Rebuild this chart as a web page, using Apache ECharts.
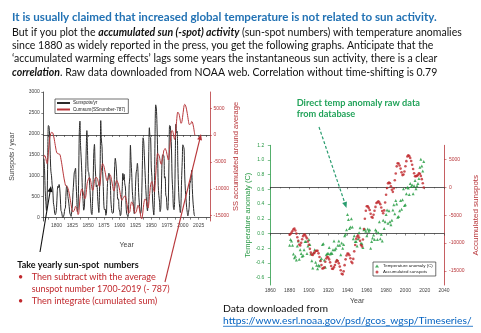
<!DOCTYPE html>
<html><head><meta charset="utf-8">
<script src="https://cdn.jsdelivr.net/npm/echarts@6/dist/echarts.min.js"></script>
<style>html,body{margin:0;padding:0;background:#fff}#c{width:481px;height:333px}</style>
</head><body><div id="c"></div>
<script>
// ---------- data ----------
const sunspotStartYear = 1780;
// yearly sunspot numbers (sum of monthly), 1780-2019
const sunspots = [
 1410,1135,642,380,170,402,1382,2200,2182,1969,
 1499,1110,1000,782,683,355,267,107,68,113,
 242,567,750,718,792,703,468,168,135,42,
 0,23,83,203,232,590,763,683,502,398,
 260,110,67,30,142,277,605,827,1070,1117,
 1182,797,458,142,220,948,2025,2305,1720,1428,
 1077,612,403,178,250,668,1025,1642,2078,1605,
 1110,1075,902,650,343,112,72,378,913,1563,
 1750,1287,985,733,783,508,272,122,627,1233,
 2317,1853,1693,1103,745,283,188,207,57,100,
 538,905,995,1062,1058,870,423,218,113,105,
 118,593,1217,1418,1300,1067,697,437,445,202,
 158,45,83,407,700,1058,897,1033,808,732,
 310,95,60,23,160,790,952,1732,1343,1060,
 627,435,237,97,278,738,1065,1150,1297,1082,
 595,353,185,95,145,602,1328,1907,1827,1480,
 1130,792,510,272,160,553,1543,2147,1930,1907,
 1188,983,446,197,62,538,2006,2693,2617,2251,
 1590,763,532,395,144,214,666,1328,1500,1494,
 1480,943,976,538,489,219,178,389,1310,2200,
 2189,1988,1641,943,650,253,190,416,1419,2232,
 2019,2063,1335,773,423,248,122,304,910,1321,
 1739,1704,1636,993,653,458,247,126,42,48,
 249,808,845,940,1133,698,398,217,70,36
];
// accumulated sunspots around average, 1780-2019
const cumSunspots = [
 -4130,-3780,-3920,-4330,-4950,-5330,-4740,-3330,-1930,-750,
 -40,290,500,500,390,-40,-560,-1240,-1960,-2630,
 -3180,-3400,-3440,-3510,-3500,-3580,-3900,-4520,-5170,-5920,
 -6710,-7470,-8170,-8760,-9310,-9510,-9530,-9640,-9920,-10310,
 -10840,-11520,-12240,-12990,-13640,-14150,-14330,-14290,-14010,-13680,
 -13280,-13270,-13600,-14250,-14810,-14650,-13410,-11900,-10960,-10320,
 -10030,-10210,-10590,-11200,-11740,-11860,-11620,-10760,-9470,-8650,
 -8330,-8040,-7930,-8070,-8510,-9180,-9900,-10310,-10180,-9410,
 -8600,-8100,-7900,-7950,-7960,-8240,-8750,-9420,-9580,-9130,
 -7600,-6530,-5630,-5310,-5330,-5800,-6380,-6930,-7630,-8290,
 -8510,-8370,-8130,-7830,-7530,-7420,-7760,-8300,-8950,-9600,
 -10250,-10410,-9960,-9300,-8760,-8450,-8510,-8840,-9150,-9710,
 -10310,-11030,-11700,-12060,-12120,-11820,-11680,-11410,-11360,-11390,
 -11840,-12500,-13200,-13940,-14540,-14510,-14320,-13350,-12760,-12460,
 -12600,-12920,-13450,-14110,-14590,-14610,-14310,-13920,-13380,-13060,
 -13220,-13630,-14210,-14870,-15490,-15590,-15060,-13950,-12910,-12230,
 -11890,-11900,-12180,-12700,-13340,-13580,-12830,-11480,-10340,-9230,
 -8840,-8650,-9000,-9600,-10330,-10590,-9370,-7480,-5650,-4200,
 -3400,-3430,-3700,-4090,-4750,-5330,-5450,-4920,-4220,-3520,
 -2830,-2680,-2500,-2760,-3060,-3640,-4260,-4660,-4150,-2740,
 -1350,-150,690,840,700,160,-450,-830,-200,1240,
 2460,3730,4270,4250,3880,3330,2660,2170,2280,2810,
 3750,4660,5500,5700,5560,5220,4680,4010,3250,2510,
 1960,1980,2030,2170,2510,2410,2020,1440,710,-50
];
const tempStartYear = 1880;
// temperature anomaly (C), 1880-2019
const tempAnomaly = [
 -0.16,-0.08,-0.10,-0.16,-0.28,-0.33,-0.31,-0.36,-0.17,-0.10,
 -0.35,-0.22,-0.27,-0.31,-0.30,-0.22,-0.11,-0.11,-0.27,-0.17,
 -0.08,-0.15,-0.28,-0.37,-0.47,-0.26,-0.22,-0.39,-0.43,-0.48,
 -0.43,-0.44,-0.36,-0.34,-0.15,-0.14,-0.36,-0.46,-0.29,-0.27,
 -0.27,-0.19,-0.28,-0.26,-0.27,-0.22,-0.10,-0.22,-0.20,-0.36,
 -0.16,-0.10,-0.16,-0.29,-0.13,-0.20,-0.15,-0.03,-0.01,0.05,
 0.26,0.19,0.07,0.09,0.20,0.09,-0.07,-0.03,-0.11,-0.11,
 -0.17,-0.07,0.01,0.08,-0.13,-0.14,-0.19,0.05,0.06,0.03,
 -0.03,0.06,0.03,0.05,-0.20,-0.11,-0.06,-0.02,-0.08,0.05,
 0.03,-0.08,0.01,0.16,-0.07,-0.01,-0.10,0.18,0.07,0.16,
 0.26,0.32,0.14,0.31,0.16,0.12,0.18,0.32,0.39,0.27,
 0.45,0.40,0.22,0.23,0.31,0.45,0.33,0.46,0.61,0.38,
 0.39,0.54,0.63,0.62,0.53,0.68,0.64,0.66,0.54,0.65,
 0.72,0.61,0.65,0.68,0.75,0.90,1.01,0.92,0.85,0.98
];
const leftXLabels = [1800,1825,1850,1875,1900,1925,1950,1975,2000,2025];
const leftXTicks = [1787.5,1800,1812.5,1825,1837.5,1850,1862.5,1875,1887.5,1900,1912.5,1925,1937.5,1950,1962.5,1975,1987.5,2000,2012.5,2025,2037.5];
const leftYLabels = [0,500,1000,1500,2000,2500,3000];
const cumLabels = [-15000,-10000,-5000,0,5000];
const tempLabels = [-0.6,-0.4,-0.2,0.0,0.2,0.4,0.6,0.8,1.0,1.2];

// ---------- build ----------
const ssPairs = sunspots.map((v,i)=>[sunspotStartYear+i, v]);
const cumPairs = cumSunspots.map((v,i)=>[sunspotStartYear+i, v]);
const tempPairs = tempAnomaly.map((v,i)=>[tempStartYear+i, v]);
const cumScatter = cumSunspots.slice(tempStartYear-sunspotStartYear).map((v,i)=>[tempStartYear+i, v]);

const AX = 'Liberation Sans, Arial, sans-serif';
const TX = 'Lato, Carlito, sans-serif';
const RED = '#b8363a', GRN = '#2a9a46', BLK = '#333';
const plain = v => String(Math.round(v));
const lab = (c, extra)=>Object.assign({color:c, fontSize:5, fontFamily:AX, formatter:plain}, extra||{});

const chart = echarts.init(document.getElementById('c'), null, {renderer:'canvas'});
chart.setOption({
  animation:false,
  backgroundColor:'#fff',
  grid:[
    {left:43.3, top:92, width:166.7, height:129},
    {left:270.3, top:145.3, width:174, height:139.7}
  ],
  xAxis:[
    {gridIndex:0, type:'value', position:'bottom', min:1779, max:2043,
     name:'Year', nameLocation:'middle', nameGap:21, nameMoveOverlap:false, nameTextStyle:{fontSize:7, color:'#444', fontFamily:AX},
     axisLine:{lineStyle:{color:BLK, width:0.8}}, splitLine:{show:false},
     axisTick:{customValues:leftXTicks, length:2, lineStyle:{color:BLK, width:0.6}},
     axisLabel:Object.assign(lab('#444',{margin:2.5}),{customValues:leftXLabels})},
    {gridIndex:0, type:'value', position:'top', min:1779, max:2043,
     axisLine:{lineStyle:{color:BLK, width:0.8}}, splitLine:{show:false},
     axisTick:{customValues:leftXTicks, inside:true, length:2, lineStyle:{color:BLK, width:0.6}},
     axisLabel:{show:false}},
    {gridIndex:1, type:'value', position:'bottom', min:1860, max:2040, interval:20,
     name:'Year', nameLocation:'middle', nameGap:13, nameMoveOverlap:false, nameTextStyle:{fontSize:7, color:'#444', fontFamily:AX},
     axisLine:{lineStyle:{color:BLK, width:0.8}}, splitLine:{show:false},
     axisTick:{length:2, lineStyle:{color:BLK, width:0.6}},
     minorTick:{show:true, splitNumber:2, length:1.2, lineStyle:{color:BLK, width:0.5}},
     axisLabel:lab('#444',{margin:3})},
    {gridIndex:1, type:'value', position:'top', min:1860, max:2040, interval:20,
     axisLine:{lineStyle:{color:BLK, width:0.8}}, splitLine:{show:false},
     axisTick:{inside:true, length:2, lineStyle:{color:BLK, width:0.6}},
     minorTick:{show:true, splitNumber:2, length:1.2, lineStyle:{color:BLK, width:0.5}},
     axisLabel:{show:false}}
  ],
  yAxis:[
    {gridIndex:0, type:'value', position:'left', min:-80, max:3000,
     name:'Sunspots / year', nameLocation:'middle', nameGap:28, nameMoveOverlap:false, nameTextStyle:{fontSize:7, color:'#444', fontFamily:AX},
     axisLine:{show:true, lineStyle:{color:BLK, width:0.8}}, splitLine:{show:false},
     axisTick:{show:true, customValues:leftYLabels, length:2, lineStyle:{color:BLK, width:0.6}},
     axisLabel:Object.assign(lab('#444',{margin:3.5}),{customValues:leftYLabels})},
    {gridIndex:0, type:'value', position:'right', min:-16000, max:8000,
     name:'SS accumulated around average', nameLocation:'middle', nameGap:22, nameMoveOverlap:false, nameTextStyle:{fontSize:7.5, color:RED, fontFamily:AX},
     axisLine:{show:true, lineStyle:{color:RED, width:0.8}}, splitLine:{show:false},
     axisTick:{show:true, customValues:cumLabels, length:2, lineStyle:{color:RED, width:0.6}},
     axisLabel:Object.assign(lab(RED,{margin:3.5}),{customValues:cumLabels})},
    {gridIndex:1, type:'value', position:'left', min:-0.7, max:1.2,
     name:'Temperature anomaly (C)', nameLocation:'middle', nameGap:18, nameMoveOverlap:false, nameTextStyle:{fontSize:7.5, color:GRN, fontFamily:AX},
     axisLine:{show:true, lineStyle:{color:GRN, width:0.8}}, splitLine:{show:false},
     axisTick:{show:true, customValues:tempLabels, length:2.5, lineStyle:{color:GRN, width:0.6}},
     axisLabel:Object.assign(lab(GRN,{margin:6, formatter:v=>v.toFixed(1)}),{customValues:tempLabels})},
    {gridIndex:1, type:'value', position:'right', min:-17500, max:7500,
     name:'Accumulated sunspots', nameLocation:'middle', nameGap:28, nameMoveOverlap:false, nameTextStyle:{fontSize:8, color:RED, fontFamily:AX},
     axisLine:{show:true, lineStyle:{color:RED, width:0.8}}, splitLine:{show:false},
     axisTick:{show:true, customValues:cumLabels, length:2.5, lineStyle:{color:RED, width:0.6}},
     axisLabel:Object.assign(lab(RED,{margin:5}),{customValues:cumLabels})}
  ],
  legend:[
    {data:['Sunspots/yr','Cumsum(SSnumber-787)'], left:55, top:99, orient:'vertical',
     itemWidth:13, itemHeight:2, itemGap:1.5, icon:'rect', padding:[1.5,3,1.5,2],
     borderColor:'#333', borderWidth:0.7, textStyle:{fontSize:4.6, color:'#222', fontFamily:AX, padding:[0,0,0,-2]}},
    {data:['Temperature anomaly (C)','Accumulated sunspots'], left:373, top:262, orient:'vertical',
     itemWidth:4, itemHeight:3, itemGap:2, padding:[2,3,2,2],
     borderColor:'#333', borderWidth:0.7, textStyle:{fontSize:4.4, color:'#222', fontFamily:AX, padding:[0,0,0,-1]}}
  ],
  series:[
    {name:'Sunspots/yr', type:'line', xAxisIndex:0, yAxisIndex:0, data:ssPairs, showSymbol:false,
     smooth:0.3, lineStyle:{color:'#2b2b2b', width:1}, itemStyle:{color:'#2b2b2b'}},
    {name:'Cumsum(SSnumber-787)', type:'line', xAxisIndex:0, yAxisIndex:1, data:cumPairs, showSymbol:false,
     smooth:0.3, lineStyle:{color:RED, width:1}, itemStyle:{color:RED}},
    {name:'Temperature anomaly (C)', type:'scatter', xAxisIndex:2, yAxisIndex:2, data:tempPairs,
     symbol:'triangle', symbolSize:3, itemStyle:{color:'#1f9a3c'}},
    {name:'Accumulated sunspots', type:'scatter', xAxisIndex:2, yAxisIndex:3, data:cumScatter,
     symbol:'circle', symbolSize:2.6, itemStyle:{color:'#c0282d'}}
  ],
  graphic:[
    {type:'text', x:12, y:17.5, z:100, style:{text:'It is usually claimed that increased global temperature is not related to sun activity.',
      fill:'#2272b4', fontSize:11.6, fontWeight:'bold', fontFamily:TX, verticalAlign:'middle', textVerticalAlign:'middle'}},
    {type:'text', x:12, y:32.3, z:100, style:{text:'{n|But if you plot the }{b|accumulated sun (-spot) activity}{n| (sun-spot numbers) with temperature anomalies}',
      verticalAlign:'middle', textVerticalAlign:'middle',
      rich:{n:{fontSize:10.5, fontFamily:TX, fill:'#111'}, b:{fontSize:10.5, fontFamily:TX, fill:'#111', fontWeight:'bold', fontStyle:'italic'}}}},
    {type:'text', x:12, y:45.7, z:100, style:{text:'since 1880 as widely reported in the press, you get the following graphs. Anticipate that the',
      fill:'#111', fontSize:10.5, fontFamily:TX, verticalAlign:'middle', textVerticalAlign:'middle'}},
    {type:'text', x:12, y:59, z:100, style:{text:'\u2018accumulated warming effects\u2019 lags some years the instantaneous sun activity, there is a clear',
      fill:'#111', fontSize:10.5, fontFamily:TX, verticalAlign:'middle', textVerticalAlign:'middle'}},
    {type:'text', x:12, y:72.6, z:100, style:{text:'{b|correlation}{n|. Raw data downloaded from NOAA web. Correlation without time-shifting is 0.79}',
      verticalAlign:'middle', textVerticalAlign:'middle',
      rich:{n:{fontSize:10.5, fontFamily:TX, fill:'#111'}, b:{fontSize:10.5, fontFamily:TX, fill:'#111', fontWeight:'bold', fontStyle:'italic'}}}},
    {type:'text', x:296.7, y:103.3, z:100, style:{text:'Direct temp anomaly raw data', fill:'#22a35a', fontSize:9.2, fontWeight:'bold', fontFamily:TX, verticalAlign:'middle', textVerticalAlign:'middle'}},
    {type:'text', x:296.7, y:114.5, z:100, style:{text:'from database', fill:'#22a35a', fontSize:9.2, fontWeight:'bold', fontFamily:TX, verticalAlign:'middle', textVerticalAlign:'middle'}},
    {type:'text', x:17.3, y:265, z:100, style:{text:'Take yearly sun-spot  numbers', fill:'#111', fontSize:9, fontWeight:'bold', fontFamily:TX, verticalAlign:'middle', textVerticalAlign:'middle'}},
    {type:'text', x:18, y:277, z:100, style:{text:'\u2022', fill:'#c0282d', fontSize:9, fontFamily:TX, verticalAlign:'middle', textVerticalAlign:'middle'}},
    {type:'text', x:31.7, y:277, z:100, style:{text:'Then subtract with the average', fill:'#c0282d', fontSize:9.1, fontFamily:TX, verticalAlign:'middle', textVerticalAlign:'middle'}},
    {type:'text', x:31.7, y:289, z:100, style:{text:'sunspot number 1700-2019 (- 787)', fill:'#c0282d', fontSize:8.9, fontFamily:TX, verticalAlign:'middle', textVerticalAlign:'middle'}},
    {type:'text', x:18, y:301, z:100, style:{text:'\u2022', fill:'#c0282d', fontSize:9, fontFamily:TX, verticalAlign:'middle', textVerticalAlign:'middle'}},
    {type:'text', x:31.7, y:301, z:100, style:{text:'Then integrate (cumulated sum)', fill:'#c0282d', fontSize:9.1, fontFamily:TX, verticalAlign:'middle', textVerticalAlign:'middle'}},
    {type:'text', x:223, y:308.5, z:100, style:{text:'Data downloaded from', fill:'#111', fontSize:10.4, fontFamily:TX, verticalAlign:'middle', textVerticalAlign:'middle'}},
    {type:'text', x:223, y:320.7, z:100, style:{text:'https://www.esrl.noaa.gov/psd/gcos_wgsp/Timeseries/', fill:'#0563c1', fontSize:10.3, fontFamily:TX, verticalAlign:'middle', textVerticalAlign:'middle'}},
    {type:'line', z:100, shape:{x1:223, y1:326.3, x2:473, y2:326.3}, style:{stroke:'#0563c1', lineWidth:0.8}},
    // arrows
    {type:'line', z:100, shape:{x1:40, y1:252, x2:50.5, y2:189}, style:{stroke:'#111', lineWidth:1.1}},
    {type:'polygon', z:100, shape:{points:[[51,186],[52.5,192.3],[47.5,191.5]]}, style:{fill:'#111'}},
    {type:'line', z:100, shape:{x1:165, y1:282, x2:200.3, y2:137}, style:{stroke:'#b8363a', lineWidth:1.1}},
    {type:'polygon', z:100, shape:{points:[[201,134],[202.0,140.4],[197.2,139.2]]}, style:{fill:'#b8363a'}},
    {type:'line', z:100, shape:{x1:319, y1:127, x2:345.5, y2:205}, style:{stroke:'#2a9d6f', lineWidth:1.2, lineDash:[3,2]}},
    {type:'polygon', z:100, shape:{points:[[346.5,208],[346.9,201.5],[342.2,203.1]]}, style:{fill:'#2a9d6f'}}
  ]
});
</script></body></html>
